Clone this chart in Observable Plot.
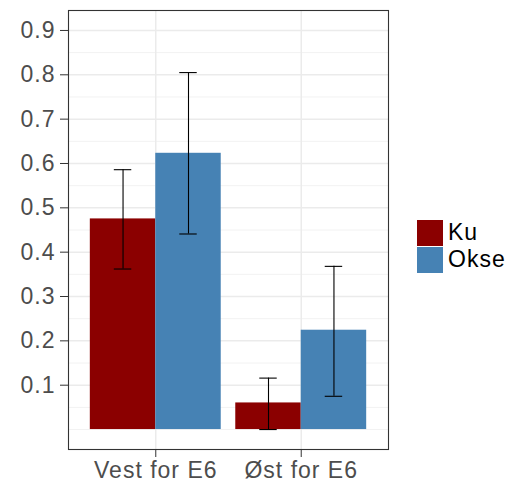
<!DOCTYPE html>
<html><head><meta charset="utf-8">
<script src="https://cdn.jsdelivr.net/npm/d3@7"></script>
<script src="https://cdn.jsdelivr.net/npm/@observablehq/plot@0.6"></script>
<style>
body{margin:0;background:#fff;}
#wrap{position:relative;width:511px;height:487px;font-family:"Liberation Sans",Arial,sans-serif;}
#wrap svg text{letter-spacing:1px;}
#legend{position:absolute;left:417px;top:219px;font-size:23px;color:#000;letter-spacing:1px;}
.sw{display:flex;align-items:center;height:27px;}
.box{width:26px;height:26px;margin-right:5px;}
</style></head><body><div id="wrap"></div>
<script>
const categories = ["Vest for E6", "Øst for E6"];
const groups = ["Ku", "Okse"];
const kuMean = [0.475, 0.060];
const kuLow = [0.362, 0.0];
const kuHigh = [0.586, 0.116];
const okseMean = [0.623, 0.224];
const okseLow = [0.441, 0.075];
const okseHigh = [0.805, 0.368];
const yTicks = [0.1, 0.2, 0.3, 0.4, 0.5, 0.6, 0.7, 0.8, 0.9];
const yMinor = [0.0, 0.05, 0.15, 0.25, 0.35, 0.45, 0.55, 0.65, 0.75, 0.85];
const colors = ["#8B0000", "#4682B4"];

const dodge = 0.9;
const half = dodge / 2;
const whisker = 0.06;
const rows = [];
categories.forEach((c, i) => {
  rows.push({cat: c, pos: i + 1, group: "Ku", value: kuMean[i], lo: kuLow[i], hi: kuHigh[i]});
  rows.push({cat: c, pos: i + 1, group: "Okse", value: okseMean[i], lo: okseLow[i], hi: okseHigh[i]});
});
const left = d => d.group === groups[0] ? d.pos - half : d.pos;
const right = d => d.group === groups[0] ? d.pos : d.pos + half;
const mid = d => (left(d) + right(d)) / 2;

const plot = Plot.plot({
  width: 511,
  height: 487,
  marginLeft: 68,
  marginRight: 123,
  marginTop: 10,
  marginBottom: 38,
  style: {fontFamily: '"Liberation Sans", Arial, sans-serif', fontSize: "23px", background: "#fff"},
  x: {domain: [0.4, 2.6]},
  y: {domain: [-0.045, 0.945]},
  color: {domain: groups, range: colors},
  marks: [
    Plot.ruleY(yMinor, {stroke: "#F2F2F2", strokeWidth: 1}),
    Plot.ruleY(yTicks, {stroke: "#EBEBEB", strokeWidth: 1.5}),
    Plot.ruleX([1, 2], {stroke: "#EBEBEB", strokeWidth: 1.5}),
    Plot.rectY(rows, {x1: left, x2: right, y: "value", fill: "group"}),
    Plot.ruleX(rows, {x: mid, y1: "lo", y2: "hi", stroke: "#000", strokeWidth: 1.1}),
    Plot.ruleY(rows, {y: "lo", x1: d => mid(d) - whisker, x2: d => mid(d) + whisker, stroke: "#000", strokeWidth: 1.1}),
    Plot.ruleY(rows, {y: "hi", x1: d => mid(d) - whisker, x2: d => mid(d) + whisker, stroke: "#000", strokeWidth: 1.1}),
    Plot.frame({stroke: "#333", strokeWidth: 1.1}),
    Plot.axisY({ticks: yTicks, tickFormat: d => d.toFixed(1), tickSize: 8, tickPadding: 5, fill: "#4D4D4D", stroke: "#333", fontSize: 23, label: null}),
    Plot.axisX({ticks: [1, 2], tickFormat: d => categories[d - 1], tickSize: 8, tickPadding: 4, fill: "#4D4D4D", stroke: "#333", fontSize: 23, label: null})
  ]
});
const wrap = document.getElementById("wrap");
wrap.appendChild(plot);
const legend = document.createElement("div");
legend.id = "legend";
groups.forEach((g, i) => {
  const item = document.createElement("div");
  item.className = "sw";
  const box = document.createElement("div");
  box.className = "box";
  box.style.background = colors[i];
  const label = document.createElement("span");
  label.textContent = g;
  item.appendChild(box);
  item.appendChild(label);
  legend.appendChild(item);
});
wrap.appendChild(legend);
</script></body></html>
